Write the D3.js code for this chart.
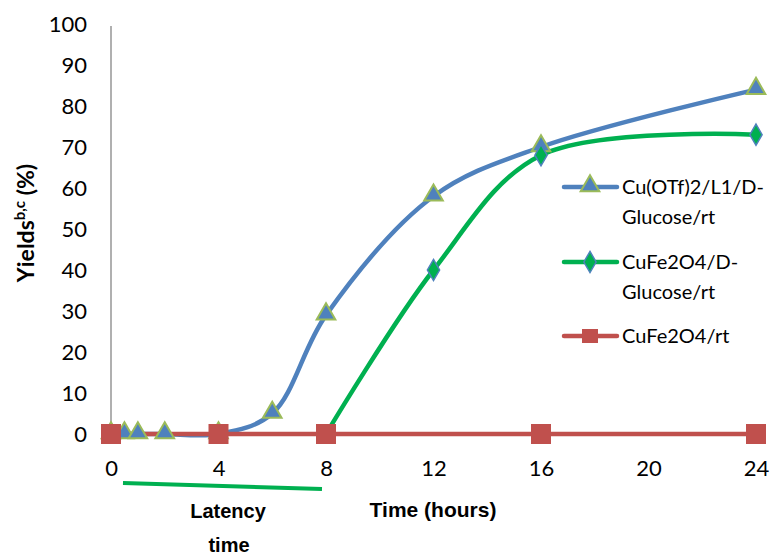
<!DOCTYPE html>
<html><head><meta charset="utf-8">
<script src="https://cdn.jsdelivr.net/npm/d3@7"></script>
<style>html,body{margin:0;padding:0;background:#fff;}svg{display:block;}</style>
</head><body>
<script>
const seriesNames = ["Cu(OTf)2/L1/D-Glucose/rt", "CuFe2O4/D-Glucose/rt", "CuFe2O4/rt"];
const blueHours = [0, 0.5, 1, 2, 4, 6, 8, 12, 16, 24];
const blueYield = [0, 0, 0, 0, 0, 5, 29, 58, 70, 84];
const greenHours = [8, 12, 16, 24];
const greenYield = [0, 40, 68, 73];
const redHours = [0, 4, 8, 16, 24];
const redYield = [0, 0, 0, 0, 0];
const xTicks = [0, 4, 8, 12, 16, 20, 24];
const yTicks = [0, 10, 20, 30, 40, 50, 60, 70, 80, 90, 100];

const W = 771, H = 556;
const svg = d3.select("body").append("svg").attr("width", W).attr("height", H);
const x = d3.scaleLinear().domain([0, 24]).range([111, 756]);
const y = d3.scaleLinear().domain([0, 100]).range([434, 24]);

const font = "Lato, 'Open Sans', sans-serif";
const arial = "'Liberation Sans', Arial, sans-serif";
// y axis
const yAx = svg.append("g").attr("transform", "translate(111,0)")
  .call(d3.axisLeft(y).tickValues(yTicks).tickSize(0).tickPadding(24));
yAx.select(".domain").attr("stroke", "#868686").attr("stroke-width", 1.3).attr("d", `M0,${y(0)}V26`);
yAx.selectAll("text").attr("font-family", font).attr("font-size", 22).attr("fill", "#000");
// x axis
const xAx = svg.append("g").attr("transform", "translate(0,434)")
  .call(d3.axisBottom(x).tickValues(xTicks).tickSize(0).tickPadding(34));
xAx.select(".domain").attr("stroke", "#868686").attr("stroke-width", 1.3);
xAx.selectAll("text").attr("font-family", font).attr("font-size", 22).attr("fill", "#000").attr("dy", "0.35em");

const curve = d3.curveCatmullRom.alpha(0.5);
const line = d3.line().x(d => x(d[0])).y(d => y(d[1])).curve(curve);
const zip = (a, b) => a.map((v, i) => [v, b[i]]);
const blue = zip(blueHours, blueYield), green = zip(greenHours, greenYield), red = zip(redHours, redYield);

const cBlue = "#4F81BD", cGreen = "#00B050", cRed = "#C0504D";
svg.append("path").attr("d", line(blue)).attr("fill", "none").attr("stroke", cBlue).attr("stroke-width", 4.5);
svg.append("path").attr("d", line(green)).attr("fill", "none").attr("stroke", cGreen).attr("stroke-width", 4.5);
svg.append("path").attr("d", line(red)).attr("fill", "none").attr("stroke", cRed).attr("stroke-width", 4.5);

const tri = d3.symbol().type(d3.symbolTriangle).size(150);
const dia = d3.symbol().type(d3.symbolDiamond).size(130);
function triangles(g, pts) {
  g.selectAll(null).data(pts).join("path").attr("d", tri())
    .attr("transform", d => `translate(${x(d[0])},${y(d[1]) - 1})`)
    .attr("fill", cBlue).attr("stroke", "#9BBB59").attr("stroke-width", 2);
}
function diamonds(g, pts) {
  g.selectAll(null).data(pts).join("path").attr("d", dia())
    .attr("transform", d => `translate(${x(d[0])},${y(d[1])})`)
    .attr("fill", cGreen).attr("stroke", cBlue).attr("stroke-width", 1.5);
}
function squares(g, pts) {
  g.selectAll(null).data(pts).join("rect")
    .attr("x", d => x(d[0]) - 10).attr("y", d => y(d[1]) - 10)
    .attr("width", 20).attr("height", 20).attr("fill", cRed);
}
triangles(svg.append("g"), blue);
diamonds(svg.append("g"), green.slice(1));
squares(svg.append("g"), red);

// legend
const leg = svg.append("g");
const legItems = [
  {y: 187, color: cBlue, lines: ["Cu(OTf)2/L1/D-", "Glucose/rt"], mk: "tri"},
  {y: 262, color: cGreen, lines: ["CuFe2O4/D-", "Glucose/rt"], mk: "dia"},
  {y: 336, color: cRed, lines: ["CuFe2O4/rt"], mk: "sq"}
];
legItems.forEach(it => {
  leg.append("line").attr("x1", 564).attr("x2", 617).attr("y1", it.y).attr("y2", it.y)
    .attr("stroke", it.color).attr("stroke-width", 4.5).attr("stroke-linecap", "round");
  if (it.mk === "tri") leg.append("path").attr("d", tri()).attr("transform", `translate(590,${it.y - 1})`)
    .attr("fill", cBlue).attr("stroke", "#9BBB59").attr("stroke-width", 2);
  if (it.mk === "dia") leg.append("path").attr("d", dia()).attr("transform", `translate(590,${it.y})`)
    .attr("fill", cGreen).attr("stroke", cBlue).attr("stroke-width", 1.5);
  if (it.mk === "sq") leg.append("rect").attr("x", 582).attr("y", it.y - 7).attr("width", 16).attr("height", 14).attr("fill", cRed);
  it.lines.forEach((t, i) => {
    leg.append("text").attr("x", 622).attr("y", it.y + i * 30).attr("dy", "0.35em")
      .attr("font-family", font).attr("font-size", 20).attr("fill", "#000").text(t);
  });
});

// axis titles
svg.append("text").attr("x", 433).attr("y", 517).attr("text-anchor", "middle")
  .attr("font-family", arial).attr("font-weight", "bold").attr("font-size", 21).text("Time (hours)");
const yt = svg.append("text").attr("transform", "translate(26,223) rotate(-90)").attr("text-anchor", "middle").attr("dy", "0.35em")
  .attr("font-family", font).attr("font-weight", "bold").attr("font-size", 23);
yt.append("tspan").text("Yields");
yt.append("tspan").attr("baseline-shift", "super").attr("font-size", 15).text("b,c");
yt.append("tspan").text(" (%)");

// latency annotation
svg.append("line").attr("x1", 123).attr("y1", 483).attr("x2", 322).attr("y2", 489)
  .attr("stroke", cGreen).attr("stroke-width", 4);
svg.append("text").attr("x", 228).attr("y", 518).attr("text-anchor", "middle")
  .attr("font-family", arial).attr("font-weight", "bold").attr("font-size", 20).text("Latency");
svg.append("text").attr("x", 229).attr("y", 552).attr("text-anchor", "middle")
  .attr("font-family", arial).attr("font-weight", "bold").attr("font-size", 20).text("time");
</script>
</body></html>
